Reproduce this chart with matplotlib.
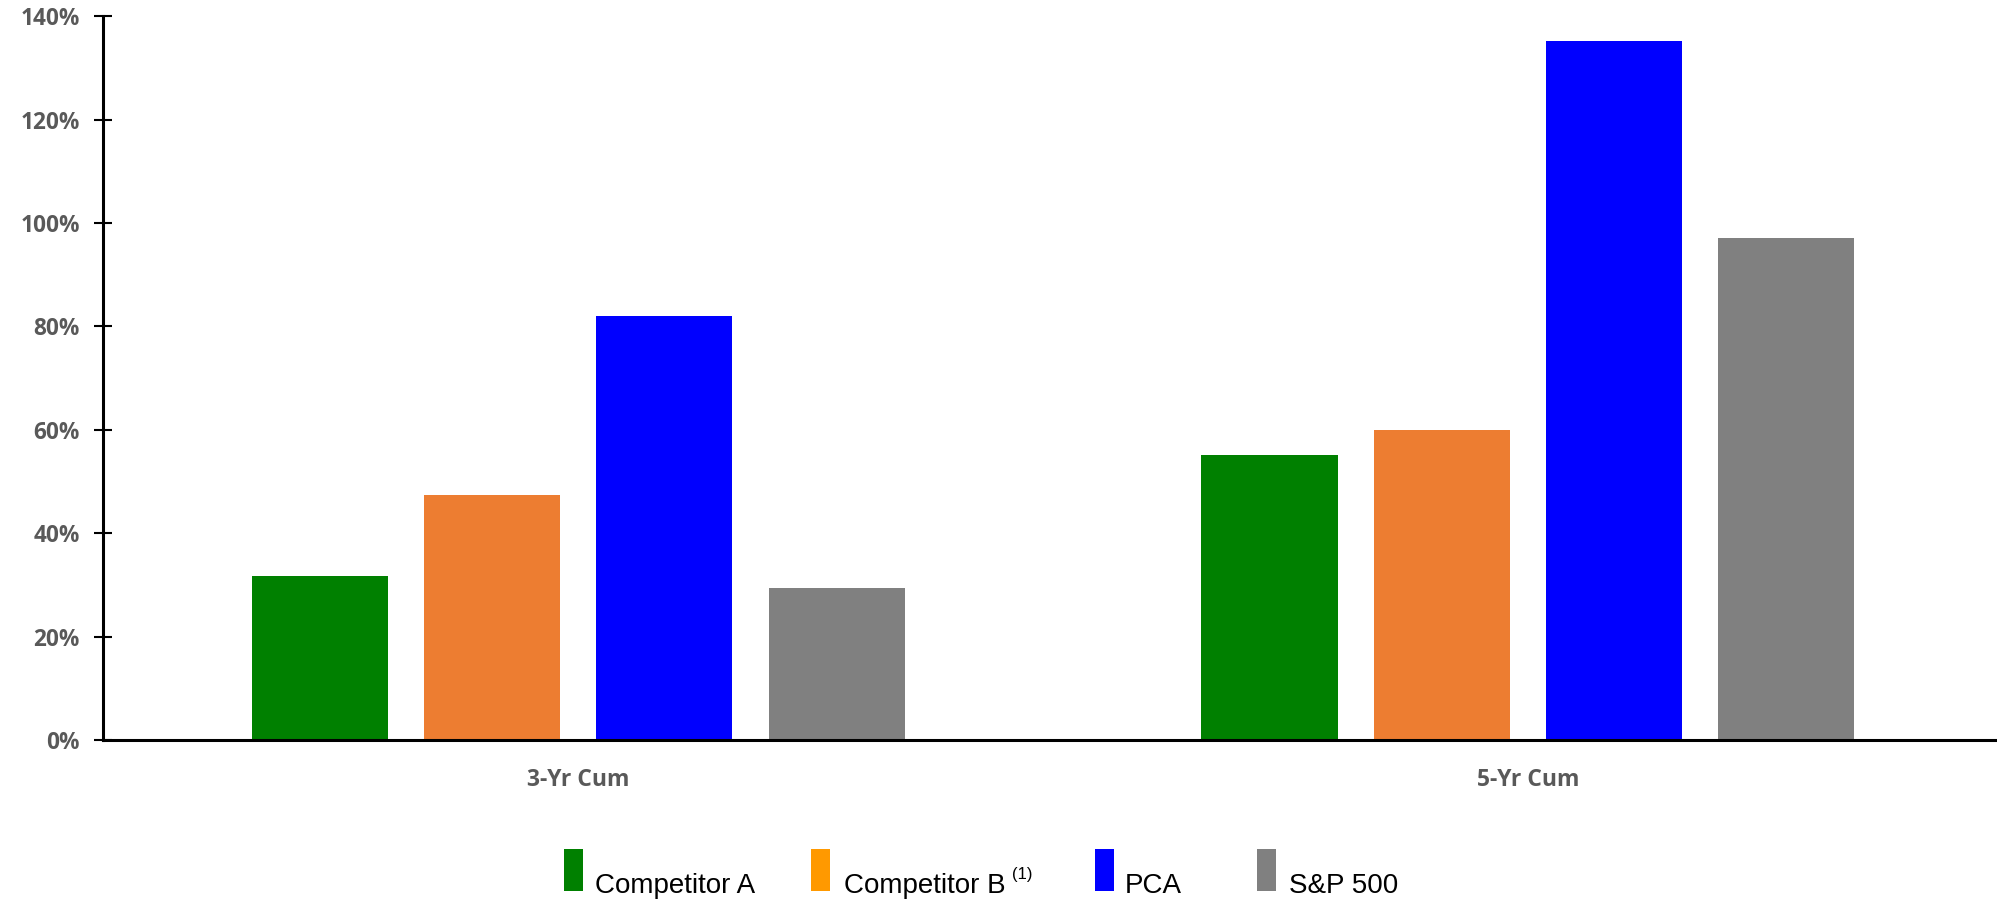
import matplotlib
matplotlib.use("Agg")
import matplotlib.pyplot as plt
from matplotlib.patches import Rectangle
import numpy as np

categories = ["3-Yr Cum", "5-Yr Cum"]
series_names = ["Competitor A", "Competitor B", "PCA", "S&P 500"]
competitor_a = [31.7, 55.2]
competitor_b = [47.4, 60.0]
pca = [82.1, 135.3]
sp500 = [29.4, 97.1]
series_values = [competitor_a, competitor_b, pca, sp500]
bar_colors = ["#008000", "#ED7D31", "#0000FF", "#808080"]
legend_colors = ["#008000", "#FF9900", "#0000FF", "#808080"]
yticks = [0, 20, 40, 60, 80, 100, 120, 140]
ytick_labels = ["0%", "20%", "40%", "60%", "80%", "100%", "120%", "140%"]

fig = plt.figure(figsize=(19.97, 9.0), dpi=100)
ax = fig.add_axes([0.0518, 0.1778, 0.951, 0.8040])

x = np.arange(len(categories))
step = 0.1814
width = 0.1434
for i, (vals, col) in enumerate(zip(series_values, bar_colors)):
    ax.bar(x + (i - 1.5) * step, vals, width=width, color=col, edgecolor="none")

ax.set_xlim(-0.5, 1.5)
ax.set_ylim(0, 140)
ax.set_yticks(yticks)
ax.set_yticklabels(ytick_labels)
ax.set_xticks(x)
ax.set_xticklabels(categories)

for s in ["top", "right"]:
    ax.spines[s].set_visible(False)
for s in ["left", "bottom"]:
    ax.spines[s].set_linewidth(2.2)
    ax.spines[s].set_color("black")

ax.tick_params(axis="y", direction="inout", length=13, width=1.5, pad=10.5,
               labelsize=16.3, labelcolor="#595959")
ax.tick_params(axis="x", length=0, pad=20, labelsize=16.5, labelcolor="#595959")
for lbl in ax.get_yticklabels() + ax.get_xticklabels():
    lbl.set_fontfamily("Open Sans")
    lbl.set_fontweight("bold")

# legend (manual)
W, H = 1997.0, 900.0
patch_x = [564, 811, 1095, 1257]
text_x = [595, 844, 1125, 1289]
for px, tx, name, col in zip(patch_x, text_x, series_names, legend_colors):
    fig.add_artist(Rectangle((px / W, 1 - 891 / H), 19 / W, 42 / H,
                             transform=fig.transFigure, color=col, lw=0))
    t = fig.text(tx / W, 1 - 893 / H, name, fontsize=20, family="Liberation Sans",
                 color="black", va="baseline", ha="left")
    if name == "Competitor B":
        fig.canvas.draw()
        bb = t.get_window_extent()
        fig.text((bb.x1 + 6) / W, 1 - 879 / H, "(1)", fontsize=12,
                 family="Liberation Sans", color="black", va="baseline", ha="left")

fig.savefig("out.png", dpi=100, facecolor="white")
